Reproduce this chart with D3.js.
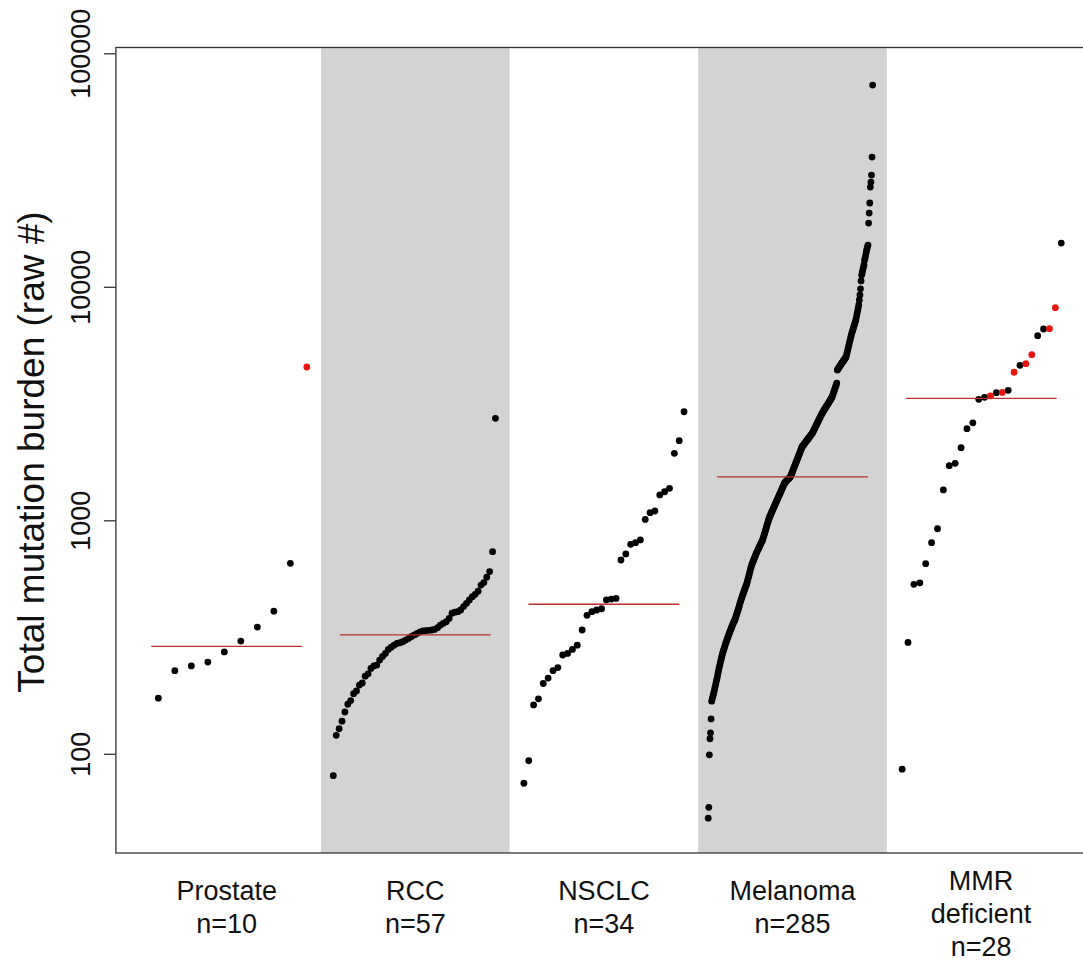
<!DOCTYPE html>
<html>
<head>
<meta charset="utf-8">
<script src="https://cdn.jsdelivr.net/npm/d3@7"></script>
<style>
    body { margin: 0; background: #fff; }
    svg { display: block; }
    text { font-family: "Liberation Sans", Arial, Helvetica, sans-serif; fill: #111; }
</style>
</head>
<body>
<div id="chart"></div>
<script>
// group labels (first lines); second line is n=<count>
const groupNames = [["Prostate"], ["RCC"], ["NSCLC"], ["Melanoma"], ["MMR", "deficient"]]

// total mutation burden per patient, sorted ascending
const prostate = [173, 227, 238, 247, 273, 304, 349, 408, 654, 4535]
const rcc = [80.6, 120, 128, 138, 151, 163, 169, 181, 186, 197, 201, 215, 220, 232, 238, 240, 252, 261, 269, 280,
    286, 292, 297, 299, 302, 307, 312, 318, 323, 328, 333, 336, 337, 338, 339, 341, 347, 356, 362, 368,
    380, 400, 404, 406, 413, 427, 441, 456, 471, 482, 497, 528, 541, 571, 603, 734, 2735]
const nsclc = [74.8, 93.4, 162, 172, 200, 211, 227, 234, 265, 269, 280, 292, 339, 392, 406, 413, 418, 456, 460, 463,
    676, 718, 789, 802, 824, 1009, 1078, 1096, 1284, 1325, 1371, 1936, 2193, 2917]
const melanoma = [
    53, 59, 99, 116, 123, 141, 168,
    172, 176, 180, 184, 189, 194, 199, 204, 209, 215, 222,
    228, 234, 240, 246, 252, 258, 264, 270,
    275, 280, 285, 290, 296, 301, 306, 311, 316,
    321, 326, 331, 336, 341, 346, 351, 356, 361, 366, 370, 374,
    381, 388, 395, 402, 409, 416, 424, 433, 443,
    450, 458, 466, 474, 482, 490, 498, 506, 514, 522, 530, 539,
    551, 563, 576, 589, 602, 616, 630, 644,
    653, 662, 671, 681, 691, 701, 711, 721, 731,
    740, 749, 758, 767, 776, 786, 795, 805, 814, 824,
    840, 856, 872, 889, 906, 924, 942, 961, 980, 999, 1016, 1033,
    1047, 1060, 1074, 1088, 1102, 1117, 1131, 1146, 1161, 1176, 1191, 1207, 1222,
    1238, 1254, 1271, 1287, 1304, 1321, 1338, 1356, 1373, 1391, 1409, 1427, 1445,
    1455, 1464, 1473, 1482, 1491, 1500, 1509, 1518, 1527, 1535,
    1558, 1581, 1604, 1628, 1652, 1677, 1702, 1727, 1752, 1778,
    1805, 1832, 1859, 1886, 1914, 1942, 1971, 2000, 2030, 2061,
    2077, 2093, 2109, 2125, 2141, 2157, 2174, 2191, 2207, 2224, 2241, 2259, 2276, 2294, 2311, 2329, 2347, 2365,
    2393, 2421, 2450, 2478, 2507, 2537, 2566, 2596, 2627, 2657, 2689, 2720, 2752, 2784, 2817, 2849, 2881,
    2908, 2935, 2962, 2989, 3017, 3045, 3073, 3101, 3130, 3159, 3188, 3218, 3248, 3278, 3308, 3342, 3377,
    3430, 3490, 3550, 3610, 3670, 3740, 3800, 3871,
    4403, 4440, 4480, 4520, 4560, 4600, 4640, 4680, 4720, 4760, 4800, 4840, 4880, 4920, 4960, 5003,
    5120, 5240, 5370, 5500, 5630, 5770, 5910, 6050, 6190, 6339,
    6450, 6570, 6690, 6820, 6950, 7080, 7211,
    7420, 7640, 7870, 8110, 8356,
    8780, 9225, 9800, 10600,
    11230, 11500, 11800, 12100, 12400,
    13000, 13280, 13700, 14100, 14500, 14800, 15090,
    18750, 20700, 22850, 26750, 28100, 30100, 35950, 73100]
const mmr = [85.9, 300, 532, 540, 652, 802, 920, 1349, 1714, 1754, 2046, 2468, 2616, 3297, 3363, 3408, 3522, 3530,
    3602, 4306, 4610, 4686, 5119, 6175, 6596, 6620, 8140, 15400]

// indices (within each sorted group) of the highlighted red patients
const prostateRed = [9]
const mmrRed = [15, 17, 19, 21, 22, 25, 26]

const tickValues = [100, 1000, 10000, 100000]

const groups = [prostate, rcc, nsclc, melanoma, mmr]
const redSets = [prostateRed, [], [], [], mmrRed]

const drawChart = () => {

    var width = 1083,
        height = 961;

    var svg = d3.select("#chart").append("svg")
        .attr("width", width)
        .attr("height", height)

    // x: each group takes one unit
    var x = d3.scaleLinear()
        .domain([0, 5])
        .range([132.4, 1075.4])

    // y: log scale of mutation burden
    var y = d3.scaleLog()
        .domain([37.6, 105900])
        .range([853, 47.5])

    const top = y.range()[1], bottom = y.range()[0]
    const left = x(-0.0875), right = x(5.0875)

    // grey bands behind every other group
    svg.selectAll(".band")
        .data([1, 3])
        .enter()
        .append("rect")
        .attr("class", "band")
        .attr("x", d => x(d))
        .attr("y", top)
        .attr("width", d => x(d + 1) - x(d))
        .attr("height", bottom - top)
        .style("fill", "#d3d3d3")

    // plot frame
    svg.append("rect")
        .attr("x", left)
        .attr("y", top)
        .attr("width", right - left)
        .attr("height", bottom - top)
        .style("fill", "none")
        .style("stroke", "#333")
        .style("stroke-width", 1.3)

    // y axis with vertical labels
    svg.append("g")
        .attr("transform", `translate(${left},0)`)
        .call(d3.axisLeft(y).tickValues(tickValues).tickFormat(d3.format("d")).tickSize(12))
        .call(g => g.select(".domain").remove())
        .call(g => g.selectAll(".tick line").style("stroke", "#333").style("stroke-width", 1.3))
        .call(g => g.selectAll(".tick text")
            .attr("transform", "rotate(-90)")
            .attr("x", 0)
            .attr("y", -26)
            .attr("dy", 0)
            .attr("text-anchor", "middle")
            .style("font-family", '"Liberation Sans", Arial, sans-serif')
            .style("font-size", "27px")
            .style("fill", "#111"))

    svg.append("text")
        .attr("transform", "translate(44,452) rotate(-90)")
        .attr("text-anchor", "middle")
        .style("font-size", "37px")
        .text("Total mutation burden (raw #)")

    // points and median lines per group
    groups.forEach((vals, g) => {
        const n = vals.length
        const red = redSets[g]

        svg.selectAll(null)
            .data(vals)
            .enter()
            .append("circle")
            .attr("cx", (d, j) => x(g + 0.05 + 0.875 * (j + 1) / n))
            .attr("cy", d => y(d))
            .attr("r", 3.4)
            .style("fill", (d, j) => red.includes(j) ? "#e8150f" : "#000")

        const med = d3.median(vals)
        svg.append("line")
            .attr("x1", x(g + 0.1))
            .attr("x2", x(g + 0.9))
            .attr("y1", y(med))
            .attr("y2", y(med))
            .style("stroke", "#b8312c")
            .style("stroke-width", 1.3)

        // category labels under the axis
        const lines = groupNames[g].concat([`n=${n}`])
        const firstBaseline = lines.length > 2 ? 890 : 900
        lines.forEach((t, k) => {
            svg.append("text")
                .attr("x", x(g + 0.5))
                .attr("y", firstBaseline + k * 33)
                .attr("text-anchor", "middle")
                .style("font-size", "27px")
                .text(t)
        })
    })
}

drawChart()
</script>
</body>
</html>
